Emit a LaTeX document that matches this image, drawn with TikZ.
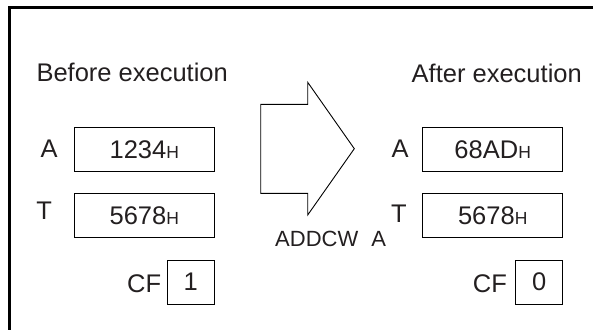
\documentclass[tikz,border=0pt]{standalone}
\usepackage{fontspec}
\setmainfont{Liberation Sans}
\definecolor{txtgray}{HTML}{231F20}
\newcommand{\hsub}{{\fontsize{17.5}{20}\selectfont H}}
\tikzset{
  lbl/.style={inner sep=0pt, anchor=base west, text=txtgray, font=\fontsize{25.5}{30}\selectfont},
  regbox/.style={draw, line width=1pt, inner sep=0pt, text depth=0pt, text=txtgray,
    font=\fontsize{25.5}{30}\selectfont, minimum width=140pt, minimum height=44pt},
  flagbox/.style={regbox, minimum width=47pt}
}
\begin{document}
\begin{tikzpicture}[x=1pt, y=-1pt]

  \useasboundingbox (0, 0) rectangle (593, 329);

  % outer frame (only top and left edges visible)
  \draw[line width=2.2pt] (9.5, 340) -- (9.5, 7.5) -- (600, 7.5);

  % before
  \node[lbl] (before) at (36.3, 81.5) {Before execution};
  \node[regbox] (aold) at (144.3, 149.5) {1234\hsub};
  \node[regbox] (told) at (144.3, 215.8) {5678\hsub};
  \node[flagbox] (cfold) at (190.8, 282) {1};
  \node[lbl] (aoldlbl) at (40.5, 157) {A};
  \node[lbl] (toldlbl) at (36.2, 219) {T};
  \node[lbl] (cfoldlbl) at (127, 292) {CF};

  % the big arrow
  \draw[line width=0.9pt] (260.7, 104.3) -- (307.7, 104.3) -- (307.7, 82.3) -- (354.3, 148.7)
    -- (307.7, 215) -- (307.7, 193.3) -- (260.7, 193.3) -- cycle;
  \node[lbl, font=\fontsize{22}{26}\selectfont] (instr) at (275, 246) {ADDCW\hspace*{13pt}A};

  % after
  \node[lbl] (after) at (411.5, 82) {After execution};
  \node[regbox] (anew) at (492.7, 149.3) {68AD\hsub};
  \node[regbox] (tnew) at (492.7, 215.8) {5678\hsub};
  \node[flagbox] (cfnew) at (539.3, 282) {0};
  \node[lbl] (anewlbl) at (391.5, 157.5) {A};
  \node[lbl] (tnewlbl) at (391, 222) {T};
  \node[lbl] (cfnewlbl) at (472.7, 292) {CF};

\end{tikzpicture}
\end{document}
